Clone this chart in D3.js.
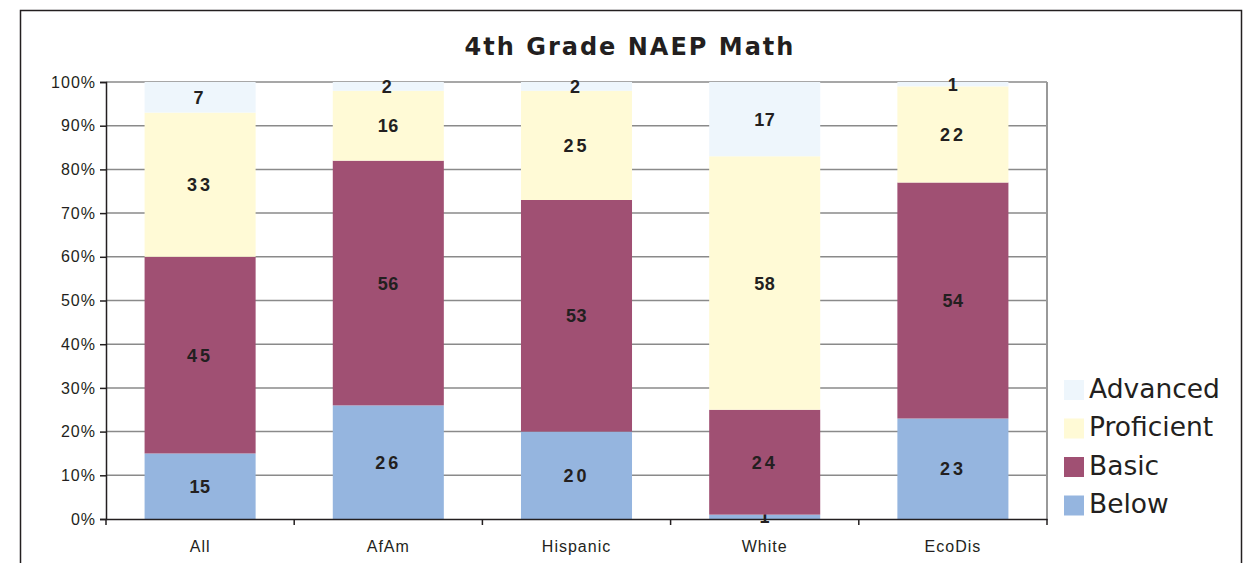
<!DOCTYPE html>
<html>
<head>
<meta charset="utf-8">
<script src="https://cdn.jsdelivr.net/npm/d3@7"></script>
<style>
  body { margin: 0; background: #fff; }
  svg text { fill: #231f20; }
</style>
</head>
<body>
<div class="chart"></div>
<script>
var categories = ["All", "AfAm", "Hispanic", "White", "EcoDis"];
var levels = ["Below", "Basic", "Proficient", "Advanced"];
var below = [15, 26, 20, 1, 23];
var basic = [45, 56, 53, 24, 54];
var proficient = [33, 16, 25, 58, 22];
var advanced = [7, 2, 2, 17, 1];
var yTicks = [0, 10, 20, 30, 40, 50, 60, 70, 80, 90, 100];

var colors = {
  "Below": "#95b5df",
  "Basic": "#a05073",
  "Proficient": "#fffad6",
  "Advanced": "#eef6fc"
};

var width = 1254, height = 563;
var plot = {left: 106, right: 1047, top: 82, bottom: 519};

// rows for stacking
var rows = categories.map(function(c, i) {
  return {cat: c, Below: below[i], Basic: basic[i], Proficient: proficient[i], Advanced: advanced[i]};
});
var series = d3.stack().keys(levels)(rows);

var svg = d3.select(".chart").append("svg")
    .attr("width", width)
    .attr("height", height);

// outer frame
svg.append("rect")
    .attr("x", 20.5).attr("y", 10.5)
    .attr("width", 1221).attr("height", 570)
    .attr("fill", "none")
    .attr("stroke", "#231f20")
    .attr("stroke-width", 1.5);

var x = d3.scaleBand()
    .domain(categories)
    .range([plot.left, plot.right])
    .paddingInner(0.41)
    .paddingOuter(0.205);

var y = d3.scaleLinear()
    .domain([0, 100])
    .range([plot.bottom, plot.top]);

// gridlines
svg.append("g")
    .selectAll("line")
    .data(yTicks.slice(1))
    .enter().append("line")
    .attr("x1", plot.left).attr("x2", plot.right)
    .attr("y1", function(d) { return y(d); })
    .attr("y2", function(d) { return y(d); })
    .attr("stroke", "#8a8a8a")
    .attr("stroke-width", 1.5);

// plot right border
svg.append("line")
    .attr("x1", plot.right).attr("x2", plot.right)
    .attr("y1", plot.top).attr("y2", plot.bottom)
    .attr("stroke", "#999")
    .attr("stroke-width", 2);

// bars
var layer = svg.selectAll("g.layer")
    .data(series)
    .enter().append("g")
    .attr("class", "layer")
    .attr("fill", function(d) { return colors[d.key]; });

layer.selectAll("rect")
    .data(function(d) { return d; })
    .enter().append("rect")
    .attr("x", function(d) { return x(d.data.cat); })
    .attr("y", function(d) { return y(d[1]); })
    .attr("width", x.bandwidth())
    .attr("height", function(d) { return y(d[0]) - y(d[1]); });

// y axis
var yAxis = d3.axisLeft(y)
    .tickValues(yTicks)
    .tickSize(6)
    .tickPadding(4)
    .tickFormat(function(d) { return d + "%"; });

var gy = svg.append("g")
    .attr("transform", "translate(" + plot.left + ",0)")
    .call(yAxis);
gy.select(".domain").attr("stroke", "#231f20").attr("stroke-width", 1.5);
gy.selectAll(".tick line").attr("stroke", "#231f20").attr("stroke-width", 1.5);
gy.selectAll("text")
    .style("font-family", "'Liberation Sans', Arial, sans-serif")
    .style("font-size", "16px")
    .style("letter-spacing", "1px")
    .attr("fill", "#231f20");

// x axis
var xAxis = d3.axisBottom(x).tickSize(0).tickPadding(22);
var gx = svg.append("g")
    .attr("transform", "translate(0," + plot.bottom + ")")
    .call(xAxis);
gx.select(".domain").attr("stroke", "#231f20").attr("stroke-width", 1.5);
gx.selectAll("text")
    .style("font-family", "'Liberation Sans', Arial, sans-serif")
    .style("font-size", "16px")
    .style("letter-spacing", "1px")
    .attr("fill", "#231f20");

// x category separators
var step = x.step();
svg.append("g")
    .selectAll("line")
    .data(d3.range(categories.length + 1))
    .enter().append("line")
    .attr("x1", function(i) { return plot.left + i * step; })
    .attr("x2", function(i) { return plot.left + i * step; })
    .attr("y1", plot.bottom).attr("y2", plot.bottom + 6)
    .attr("stroke", "#231f20")
    .attr("stroke-width", 1.5);

// value labels
layer.selectAll("text")
    .data(function(d) { return d; })
    .enter().append("text")
    .attr("x", function(d) { return x(d.data.cat) + x.bandwidth() / 2; })
    .attr("y", function(d) { return (y(d[0]) + y(d[1])) / 2; })
    .attr("dy", "0.36em")
    .attr("text-anchor", "middle")
    .style("font-family", "'Liberation Sans', Arial, sans-serif")
    .style("font-weight", "bold")
    .style("font-size", "18px")
    .style("letter-spacing", function(d) {
      var c = String(d[1] - d[0]).charAt(0);
      return (c === "1" || c === "5") ? "0.5px" : "3px";
    })
    .attr("fill", "#231f20")
    .text(function(d) { return d[1] - d[0]; });

// title
svg.append("text")
    .attr("x", 630)
    .attr("y", 55)
    .attr("text-anchor", "middle")
    .style("font-family", "'DejaVu Sans', Verdana, sans-serif")
    .style("font-weight", "bold")
    .style("font-size", "24px")
    .style("letter-spacing", "2px")
    .text("4th Grade NAEP Math");

// legend
var legend = svg.append("g")
    .selectAll("g")
    .data(levels.slice().reverse())
    .enter().append("g")
    .attr("transform", function(d, i) { return "translate(1064," + (380 + i * 38.5) + ")"; });

legend.append("rect")
    .attr("width", 20).attr("height", 20)
    .attr("fill", function(d) { return colors[d]; });

legend.append("text")
    .attr("x", 25)
    .attr("y", 10)
    .attr("dy", "0.3em")
    .style("font-family", "'DejaVu Sans', Verdana, sans-serif")
    .style("font-size", "26.5px")
    .text(function(d) { return d; });
</script>
</body>
</html>
